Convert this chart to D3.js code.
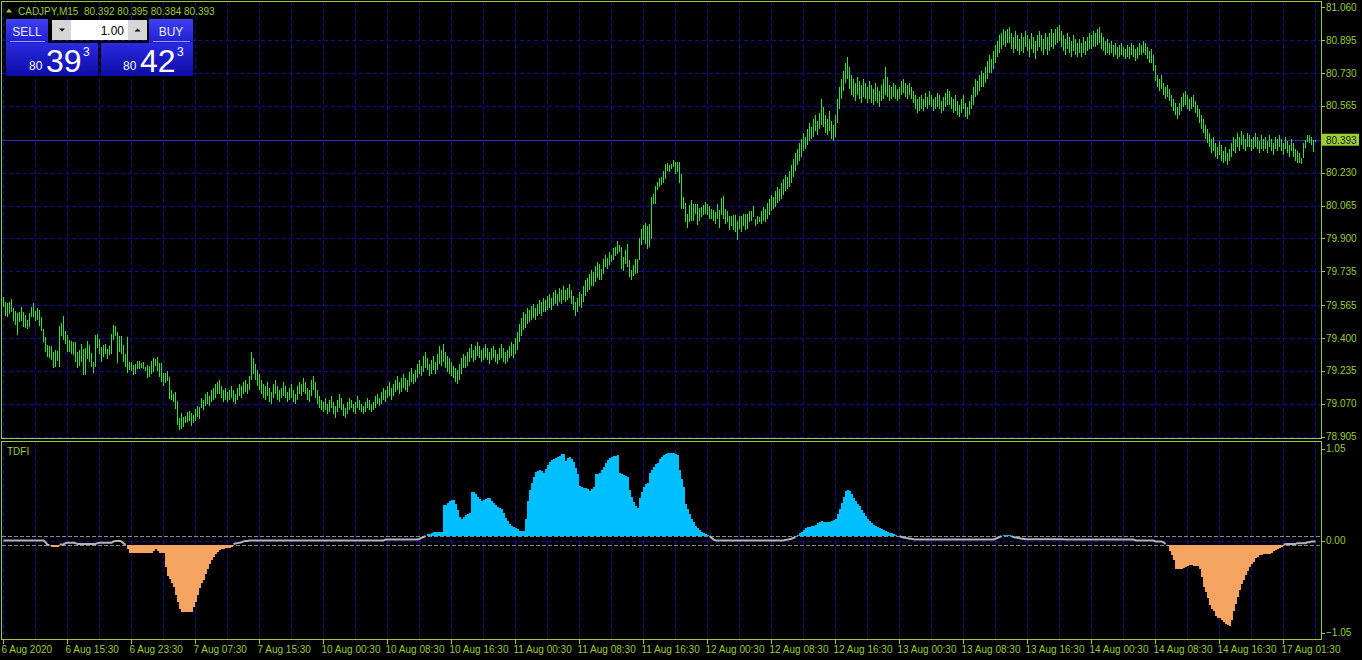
<!DOCTYPE html>
<html><head><meta charset="utf-8">
<script src="https://cdn.jsdelivr.net/npm/d3@7"></script>
<style>
html,body{margin:0;padding:0;background:#000;}
svg{display:block;}
text{font-family:"Liberation Sans",Arial,sans-serif;}
</style></head><body>
<svg id="chart" width="1362" height="660"></svg>
<script>
const symbolTitle = "CADJPY,M15";
const quote = ["80.392", "80.395", "80.384", "80.393"];
const currentPrice = 80.393;
const lotSize = "1.00";
const sellPrice = ["80", "39", "3"];
const buyPrice = ["80", "42", "3"];

const highs = [
79.605,79.580,79.575,79.580,79.594,79.552,79.535,79.527,79.533,79.558,
79.530,79.517,79.491,79.527,79.555,79.577,79.535,79.550,79.543,79.508,
79.446,79.404,79.363,79.358,79.358,79.332,79.341,79.337,79.463,79.475,
79.513,79.435,79.413,79.388,79.383,79.379,79.379,79.329,79.342,79.371,
79.346,79.349,79.383,79.363,79.324,79.282,79.413,79.418,79.396,79.354,
79.363,79.368,79.346,79.358,79.418,79.468,79.463,79.430,79.408,79.408,
79.363,79.321,79.404,79.279,79.282,79.267,79.270,79.287,79.287,79.274,
79.279,79.257,79.267,79.262,79.287,79.301,79.296,79.307,79.274,79.274,
79.224,79.224,79.234,79.204,79.140,79.120,79.128,79.083,78.998,79.023,
79.003,79.011,79.028,79.036,79.023,79.016,79.045,79.061,79.056,79.10,
79.09,79.12,79.13,79.11,79.14,79.15,79.17,79.18,79.19,79.16,
79.14,79.15,79.13,79.14,79.16,79.14,79.12,79.15,79.17,79.16,
79.18,79.19,79.17,79.21,79.33,79.30,79.27,79.24,79.22,79.19,
79.17,79.16,79.18,79.15,79.13,79.17,79.19,79.16,79.14,79.15,
79.18,79.16,79.13,79.15,79.17,79.14,79.12,79.16,79.18,79.17,
79.20,79.18,79.15,79.14,79.19,79.21,79.18,79.14,79.11,79.09,
79.08,79.10,79.07,79.09,79.11,79.08,79.06,79.09,79.12,79.10,
79.07,79.05,79.08,79.10,79.09,79.07,79.08,79.11,79.09,79.07,
79.06,79.08,79.10,79.09,79.07,79.08,79.11,79.12,79.10,79.13,
79.15,79.14,79.16,79.18,79.15,79.17,79.19,79.21,79.18,79.20,
79.22,79.20,79.19,79.23,79.25,79.22,79.24,79.27,79.29,79.26,
79.31,79.33,79.30,79.27,79.29,79.31,79.28,79.32,79.36,79.34,
79.37,79.33,79.31,79.30,79.28,79.26,79.25,79.24,79.27,79.30,
79.32,79.31,79.33,79.35,79.37,79.34,79.36,79.38,79.36,79.34,
79.35,79.37,79.35,79.33,79.35,79.36,79.34,79.32,79.35,79.37,
79.35,79.33,79.34,79.36,79.38,79.37,79.40,79.43,79.47,79.50,
79.53,79.52,79.55,79.54,79.56,79.57,79.55,79.57,79.59,79.58,
79.60,79.59,79.61,79.62,79.60,79.63,79.64,79.62,79.65,79.64,
79.66,79.64,79.65,79.67,79.64,79.61,79.58,79.60,79.63,79.62,
79.66,79.69,79.70,79.72,79.74,79.73,79.76,79.78,79.77,79.748,
79.795,79.815,79.803,79.831,79.815,79.853,79.857,79.887,79.865,79.857,
79.806,79.840,79.870,79.790,79.743,79.765,79.798,79.798,79.903,79.949,
79.965,79.977,79.960,79.974,80.108,80.124,80.161,80.183,80.205,80.208,
80.238,80.275,80.278,80.267,80.275,80.292,80.283,80.283,80.283,80.225,
80.108,80.078,80.024,80.066,80.091,80.074,80.071,80.074,80.054,80.057,
80.066,80.083,80.071,80.061,80.049,80.041,80.032,80.074,80.041,80.104,
80.111,80.049,80.037,80.011,80.011,80.016,80.016,79.987,80.011,80.011,
80.024,80.021,80.021,80.036,80.037,80.061,79.999,80.011,80.007,80.04,
80.06,80.05,80.08,80.10,80.12,80.11,80.14,80.16,80.15,80.18,
80.20,80.22,80.21,80.24,80.27,80.30,80.33,80.35,80.38,80.40,
80.43,80.41,80.45,80.48,80.46,80.50,80.52,80.49,80.53,80.60,
80.56,80.52,80.50,80.54,80.49,80.47,80.52,80.60,80.66,80.70,
80.74,80.78,80.81,80.76,80.72,80.70,80.68,80.71,80.69,80.67,
80.70,80.68,80.66,80.69,80.67,80.65,80.68,80.66,80.64,80.67,
80.70,80.76,80.71,80.67,80.66,80.68,80.67,80.65,80.66,80.69,
80.70,80.68,80.67,80.68,80.66,80.64,80.62,80.60,80.61,80.62,
80.60,80.63,80.61,80.64,80.62,80.60,80.61,80.63,80.62,80.59,
80.61,80.63,80.65,80.64,80.61,80.60,80.62,80.59,80.57,80.60,
80.62,80.58,80.56,80.59,80.62,80.66,80.70,80.69,80.72,80.74,
80.73,80.76,80.79,80.82,80.80,80.84,80.87,80.89,80.92,80.93,
80.95,80.94,80.95,80.96,80.93,80.91,80.94,80.92,80.90,80.93,
80.91,80.94,80.92,80.90,80.93,80.91,80.89,80.92,80.94,80.92,
80.90,80.93,80.91,80.93,80.95,80.93,80.95,80.96,80.97,80.94,
80.92,80.90,80.93,80.91,80.89,80.92,80.90,80.88,80.90,80.88,
80.91,80.89,80.91,80.93,80.92,80.94,80.93,80.95,80.96,80.93,
80.91,80.89,80.90,80.88,80.89,80.87,80.88,80.86,80.87,80.88,
80.86,80.85,80.87,80.86,80.88,80.87,80.85,80.86,80.88,80.87,
80.89,80.88,80.86,80.84,80.85,80.82,80.77,80.72,80.70,80.72,
80.68,80.66,80.67,80.65,80.62,80.60,80.58,80.56,80.58,80.61,
80.63,80.64,80.62,80.60,80.61,80.62,80.59,80.57,80.55,80.52,
80.50,80.47,80.45,80.43,80.40,80.41,80.38,80.36,80.39,80.37,
80.34,80.36,80.33,80.35,80.38,80.41,80.40,80.43,80.41,80.44,
80.42,80.40,80.43,80.42,80.40,80.41,80.43,80.41,80.39,80.42,
80.40,80.41,80.39,80.42,80.40,80.38,80.41,80.40,80.42,80.40,
80.38,80.41,80.39,80.37,80.40,80.38,80.35,80.34,80.33,80.306,
80.377,80.392,80.417,80.417,80.407,80.392,80.395
];
const lows = [
79.555,79.513,79.508,79.522,79.530,79.485,79.468,79.413,79.480,79.485,
79.455,79.450,79.446,79.455,79.505,79.505,79.488,79.491,79.460,79.435,
79.379,79.332,79.304,79.301,79.291,79.249,79.254,79.287,79.257,79.408,
79.391,79.371,79.332,79.332,79.321,79.316,79.279,79.249,79.259,79.279,
79.217,79.217,79.296,79.279,79.257,79.224,79.257,79.349,79.321,79.282,
79.304,79.321,79.296,79.317,79.321,79.388,79.408,79.274,79.329,79.321,
79.279,79.257,79.224,79.240,79.234,79.217,79.220,79.245,79.245,79.250,
79.245,79.234,79.200,79.207,79.220,79.229,79.262,79.237,79.204,79.178,
79.158,79.173,79.187,79.095,79.090,79.078,79.045,78.966,78.939,78.944,
78.956,78.973,78.978,78.986,78.961,78.973,78.986,79.006,78.994,79.05,
79.04,79.06,79.07,79.06,79.08,79.09,79.10,79.12,79.12,79.10,
79.08,79.09,79.08,79.09,79.10,79.08,79.07,79.09,79.11,79.10,
79.12,79.13,79.12,79.14,79.19,79.22,79.19,79.16,79.14,79.12,
79.10,79.09,79.11,79.08,79.07,79.10,79.12,79.09,79.08,79.10,
79.11,79.10,79.08,79.09,79.10,79.08,79.07,79.09,79.12,79.11,
79.13,79.12,79.09,79.08,79.11,79.14,79.10,79.07,79.05,79.04,
79.03,79.04,79.02,79.03,79.05,79.02,79.00,79.03,79.05,79.04,
79.01,79.00,79.02,79.04,79.05,79.03,79.02,79.05,79.04,79.03,
79.02,79.03,79.05,79.04,79.03,79.04,79.05,79.07,79.06,79.07,
79.09,79.08,79.10,79.11,79.09,79.11,79.13,79.14,79.12,79.13,
79.15,79.14,79.13,79.16,79.18,79.17,79.18,79.20,79.22,79.21,
79.23,79.25,79.24,79.21,79.22,79.24,79.22,79.24,79.27,79.26,
79.28,79.25,79.23,79.22,79.21,79.20,79.18,79.17,79.19,79.22,
79.25,79.25,79.26,79.28,79.30,79.28,79.29,79.31,79.30,79.28,
79.29,79.30,79.29,79.27,79.29,79.30,79.28,79.27,79.29,79.30,
79.28,79.27,79.28,79.30,79.31,79.30,79.32,79.34,79.38,79.41,
79.44,79.45,79.47,79.48,79.49,79.50,79.49,79.51,79.52,79.51,
79.53,79.53,79.54,79.55,79.54,79.56,79.57,79.56,79.58,79.57,
79.59,79.58,79.59,79.60,79.57,79.54,79.51,79.53,79.56,79.55,
79.58,79.61,79.63,79.64,79.66,79.66,79.68,79.70,79.69,79.689,
79.723,79.756,79.748,79.765,79.781,79.790,79.810,79.823,79.831,79.748,
79.739,79.773,79.756,79.706,79.689,79.714,79.723,79.726,79.790,79.865,
79.890,79.870,79.848,79.857,79.898,80.074,80.074,80.144,80.158,80.166,
80.178,80.200,80.238,80.233,80.250,80.258,80.221,80.233,80.178,80.049,
80.049,79.982,79.954,79.982,79.990,79.990,80.024,79.965,79.987,80.007,
80.016,80.024,80.016,79.999,79.999,79.990,79.974,79.999,79.954,80.016,
79.999,79.970,79.982,79.944,79.960,79.944,79.932,79.890,79.949,79.932,
79.960,79.940,79.949,79.982,79.987,80.007,79.960,79.974,79.982,79.97,
79.99,79.98,80.00,80.02,80.04,80.05,80.06,80.08,80.09,80.10,
80.12,80.14,80.15,80.16,80.18,80.21,80.24,80.27,80.29,80.31,
80.34,80.35,80.37,80.39,80.40,80.41,80.44,80.42,80.45,80.47,
80.46,80.43,80.42,80.44,80.40,80.39,80.41,80.48,80.55,80.60,
80.64,80.68,80.70,80.65,80.62,80.61,80.59,80.62,80.60,80.58,
80.61,80.60,80.58,80.60,80.58,80.57,80.59,80.58,80.56,80.59,
80.60,80.62,80.61,80.59,80.60,80.61,80.60,80.59,80.60,80.62,
80.63,80.61,80.60,80.62,80.60,80.58,80.55,80.53,80.54,80.55,
80.54,80.56,80.55,80.57,80.56,80.54,80.55,80.56,80.55,80.53,
80.54,80.56,80.57,80.57,80.55,80.53,80.54,80.52,80.51,80.53,
80.55,80.51,80.50,80.52,80.55,80.57,80.61,80.62,80.64,80.66,
80.66,80.68,80.70,80.73,80.73,80.75,80.78,80.81,80.83,80.85,
80.87,80.86,80.88,80.88,80.85,80.83,80.85,80.84,80.82,80.84,
80.83,80.86,80.84,80.81,80.85,80.83,80.80,80.84,80.86,80.84,
80.82,80.85,80.82,80.84,80.86,80.85,80.87,80.88,80.89,80.86,
80.84,80.82,80.85,80.83,80.81,80.84,80.82,80.81,80.83,80.81,
80.83,80.82,80.84,80.85,80.85,80.86,80.86,80.87,80.88,80.85,
80.84,80.82,80.83,80.82,80.83,80.81,80.82,80.80,80.81,80.82,
80.81,80.80,80.81,80.80,80.82,80.81,80.79,80.80,80.82,80.82,
80.83,80.82,80.80,80.78,80.78,80.74,80.69,80.66,80.64,80.65,
80.62,80.60,80.61,80.59,80.56,80.54,80.52,80.50,80.52,80.54,
80.56,80.57,80.55,80.54,80.55,80.56,80.53,80.51,80.48,80.45,
80.43,80.40,80.38,80.36,80.33,80.34,80.31,80.30,80.32,80.29,
80.28,80.29,80.27,80.29,80.31,80.34,80.33,80.36,80.34,80.37,
80.35,80.34,80.36,80.36,80.34,80.35,80.36,80.35,80.33,80.35,
80.34,80.35,80.33,80.36,80.34,80.32,80.35,80.34,80.36,80.34,
80.32,80.35,80.33,80.31,80.34,80.31,80.29,80.28,80.28,80.276,
80.306,80.352,80.382,80.377,80.367,80.332,80.384
];
const tdfi = [
0,0,0,0,0,0,0,0,0,0,
0,0,0,0,0,0,0,0,0,0,
0,-0.02,-0.05,-0.05,-0.07,-0.07,-0.07,-0.07,-0.045,-0.045,
-0.045,-0.03,-0.025,-0.025,-0.025,-0.025,-0.03,-0.04,-0.04,-0.04,
-0.04,-0.04,-0.04,-0.04,-0.04,-0.04,-0.04,-0.03,-0.025,-0.025,
-0.025,-0.025,-0.025,-0.025,-0.025,-0.01,-0.005,-0.005,-0.005,-0.01,
-0.03,-0.05,-0.10,-0.14,-0.14,-0.14,-0.14,-0.14,-0.14,-0.14,
-0.14,-0.14,-0.14,-0.14,-0.14,-0.12,-0.10,-0.12,-0.14,-0.14,
-0.14,-0.30,-0.41,-0.44,-0.48,-0.53,-0.62,-0.70,-0.78,-0.82,
-0.82,-0.82,-0.82,-0.82,-0.82,-0.76,-0.70,-0.62,-0.54,-0.49,
-0.45,-0.38,-0.33,-0.27,-0.22,-0.185,-0.15,-0.13,-0.11,-0.10,
-0.095,-0.09,-0.085,-0.08,-0.07,-0.04,-0.035,-0.03,-0.025,-0.02,
-0.01,-0.005,-0.005,0,0,0,0,0,0,0,
0,0,0,0,0,0,0,0,0,0,
0,0,0,0,0,0,0,0,0,0,
0,0,0,0,0,0,0,0,0,0,
0,0,0,0,0,0,0,0,0,0,
0,0,0,0,0,0,0,0,0,0,
0,0,0,0,0,0,0,0,0,0,
0,0.01,0.01,0.01,0.01,0.01,0.01,0.01,0.01,0.01,
0.01,0.01,0.01,0.01,0.01,0.01,0.01,0.01,0.02,0.03,
0.04,0.05,0.075,0.075,0.08,0.10,0.10,0.10,0.10,0.10,
0.40,0.41,0.43,0.45,0.46,0.46,0.42,0.35,0.27,0.25,
0.27,0.29,0.30,0.31,0.55,0.55,0.53,0.50,0.47,0.45,
0.46,0.47,0.49,0.48,0.45,0.43,0.40,0.38,0.37,0.36,
0.31,0.26,0.22,0.19,0.17,0.15,0.14,0.13,0.11,0.11,
0.11,0.25,0.45,0.58,0.66,0.73,0.78,0.79,0.80,0.79,
0.77,0.82,0.86,0.90,0.92,0.93,0.94,0.95,0.97,0.99,
0.99,0.91,0.94,0.95,0.93,0.90,0.83,0.76,0.62,0.61,
0.60,0.60,0.59,0.57,0.59,0.61,0.76,0.76,0.77,0.81,
0.84,0.89,0.92,0.94,0.95,0.96,0.97,0.98,0.77,0.76,
0.75,0.74,0.73,0.58,0.50,0.44,0.39,0.37,0.48,0.55,
0.61,0.64,0.66,0.77,0.80,0.84,0.87,0.89,0.93,0.95,
0.976,0.99,0.995,0.995,0.995,0.995,0.99,0.976,0.80,0.70,
0.61,0.42,0.36,0.30,0.25,0.21,0.16,0.14,0.12,0.10,
0.09,0.07,0.066,0.05,0.03,0.01,0,0,0,0,
0,0,0,0,0,0,0,0,0,0,
0,0,0,0,0,0,0,0,0,0,
0,0,0,0,0,0,0,0,0,0,
0,0.005,0.01,0.015,0.02,0.03,0.04,0.06,0.08,0.10,
0.12,0.14,0.15,0.15,0.16,0.17,0.18,0.20,0.21,0.22,
0.21,0.21,0.21,0.21,0.22,0.23,0.24,0.30,0.36,0.43,
0.50,0.56,0.58,0.56,0.53,0.49,0.45,0.42,0.39,0.35,
0.31,0.28,0.25,0.22,0.20,0.18,0.16,0.15,0.14,0.13,
0.12,0.11,0.10,0.09,0.08,0.07,0.06,0.055,0.05,0.04,
0.035,0.03,0.025,0.02,0.02,0.015,0.01,0.01,0.01,0.01,
0.01,0.01,0.01,0.01,0.01,0.01,0.01,0.01,0.01,0.01,
0.01,0.01,0.01,0.01,0.01,0.01,0.01,0.01,0.01,0.01,
0.01,0.01,0.01,0.01,0.01,0.01,0.01,0.01,0.01,0.01,
0.01,0.01,0.01,0.01,0.01,0.01,0.02,0.03,0.04,0.05,
0.06,0.065,0.065,0.06,0.05,0.04,0.035,0.03,0.025,0.02,
0.02,0.015,0.015,0.015,0.015,0.015,0.015,0.015,0.015,0.015,
0.015,0.015,0.015,0.015,0.015,0.015,0.015,0.015,0.015,0.015,
0.015,0.01,0.01,0.01,0.01,0.01,0.01,0.01,0.01,0.01,
0.01,0.01,0.01,0.01,0.01,0.01,0.01,0.01,0.01,0.01,
0.01,0.01,0.01,0.01,0.01,0.01,0.01,0.01,0.01,0.01,
0.01,0.01,0.01,0.01,0.01,0.01,0,0,0,0,
0,0,0,0,0,0,-0.01,-0.01,-0.01,-0.01,
-0.02,-0.04,-0.06,-0.12,-0.17,-0.22,-0.32,-0.33,-0.32,-0.32,
-0.31,-0.30,-0.29,-0.28,-0.28,-0.29,-0.29,-0.29,-0.33,-0.42,
-0.53,-0.59,-0.66,-0.74,-0.78,-0.81,-0.86,-0.88,-0.89,-0.91,
-0.93,-0.95,-0.97,-0.98,-0.91,-0.81,-0.72,-0.64,-0.56,-0.50,
-0.45,-0.39,-0.35,-0.30,-0.27,-0.24,-0.20,-0.19,-0.17,-0.16,
-0.15,-0.15,-0.15,-0.15,-0.14,-0.12,-0.11,-0.10,-0.08,-0.07,
-0.05,-0.04,-0.04,-0.04,-0.04,-0.04,-0.04,-0.03,-0.03,-0.03,
-0.03,-0.03,-0.02,-0.02,-0.01,-0.01,-0.01
];

const priceTicks = [81.060, 80.895, 80.730, 80.565, 80.230, 80.065, 79.900, 79.735, 79.565, 79.400, 79.235, 79.070, 78.905];
const tdfiTicks = [1.05, 0.00, -1.05];
const tdfiLevels = [0.05, -0.05];
const timeLabels = ["6 Aug 2020","6 Aug 15:30","6 Aug 23:30","7 Aug 07:30","7 Aug 15:30","10 Aug 00:30","10 Aug 08:30",
  "10 Aug 16:30","11 Aug 00:30","11 Aug 08:30","11 Aug 16:30","12 Aug 00:30","12 Aug 08:30","12 Aug 16:30",
  "13 Aug 00:30","13 Aug 08:30","13 Aug 16:30","14 Aug 00:30","14 Aug 08:30","14 Aug 16:30","17 Aug 01:30"];
const barsPerLabel = 32;
const barsPerGrid = 16;

// ---------- styles ----------
const FG = "#9acd32", GRID = "#0e0e96", BAR = "#32e132";
const svg = d3.select("#chart");
svg.append("rect").attr("width",1362).attr("height",660).attr("fill","#000");

const n = highs.length;
const x = d3.scaleLinear().domain([0, n - 1]).range([3, 3 + 2 * (n - 1)]);
const yP = d3.scaleLinear().domain([78.905, 81.060]).range([436.7, 7.3]);
const yT = d3.scaleLinear().domain([-1.05, 1.05]).range([632.5, 448.5]);
const fmt3 = d3.format(".3f"), fmt2 = d3.format(".2f");
const R = 1321.5;

// defs
const defs = svg.append("defs");
const g1 = defs.append("linearGradient").attr("id","btnTop").attr("x1",0).attr("y1",0).attr("x2",0).attr("y2",1);
g1.append("stop").attr("offset","0%").attr("stop-color","#4040f4");
g1.append("stop").attr("offset","100%").attr("stop-color","#2020d0");
const g2 = defs.append("linearGradient").attr("id","pBox").attr("x1",0).attr("y1",0).attr("x2",0).attr("y2",1);
g2.append("stop").attr("offset","0%").attr("stop-color","#2a2ae0");
g2.append("stop").attr("offset","100%").attr("stop-color","#0c0ca6");

// ---------- grids ----------
const gridIdx = d3.range(0, n, barsPerGrid);
const grid = svg.append("g").attr("stroke", GRID).attr("stroke-dasharray","4,3").attr("shape-rendering","crispEdges");
grid.selectAll(".vg1").data(gridIdx).join("line")
  .attr("x1", d => x(d) + 0.5).attr("x2", d => x(d) + 0.5).attr("y1", 2).attr("y2", 438);
grid.selectAll(".vg2").data(gridIdx).join("line")
  .attr("x1", d => x(d) + 0.5).attr("x2", d => x(d) + 0.5).attr("y1", 442).attr("y2", 639);
grid.selectAll(".hg").data(priceTicks.slice(1)).join("line")
  .attr("x1", 2).attr("x2", R).attr("y1", d => Math.round(yP(d)) + 0.5).attr("y2", d => Math.round(yP(d)) + 0.5);

// bid line
svg.append("line").attr("x1",2).attr("x2",R)
  .attr("y1", Math.round(yP(currentPrice)) + 0.5).attr("y2", Math.round(yP(currentPrice)) + 0.5)
  .attr("stroke","#2a2ac8").attr("shape-rendering","crispEdges");

// ---------- price bars ----------
svg.append("g").attr("fill", BAR).attr("shape-rendering","crispEdges")
  .selectAll("rect").data(d3.range(n)).join("rect")
  .attr("x", i => x(i)).attr("width", 1)
  .attr("y", i => Math.round(yP(highs[i])))
  .attr("height", i => Math.max(1, Math.round(yP(lows[i])) - Math.round(yP(highs[i]))));

// ---------- indicator ----------
// zero line
svg.append("line").attr("x1",2).attr("x2",R).attr("y1", Math.round(yT(0)) + 0.5).attr("y2", Math.round(yT(0)) + 0.5)
  .attr("stroke", GRID).attr("stroke-dasharray","4,3").attr("shape-rendering","crispEdges");
svg.selectAll(".lvl").data(tdfiLevels).join("line")
  .attr("x1",2).attr("x2",R).attr("y1", d => Math.round(yT(d)) + 0.5).attr("y2", d => Math.round(yT(d)) + 0.5)
  .attr("stroke","#8a8a8a").attr("stroke-dasharray","4,2").attr("shape-rendering","crispEdges");

const up = d3.range(n).filter(i => tdfi[i] > tdfiLevels[0]);
const dn = d3.range(n).filter(i => tdfi[i] < tdfiLevels[1]);
svg.append("g").attr("fill","#00bfff").attr("shape-rendering","crispEdges")
  .selectAll("rect").data(up).join("rect")
  .attr("x", i => x(i) - 0.5).attr("width", 2)
  .attr("y", i => yT(tdfi[i])).attr("height", i => yT(tdfiLevels[0]) - yT(tdfi[i]));
svg.append("g").attr("fill","#f4a460").attr("shape-rendering","crispEdges")
  .selectAll("rect").data(dn).join("rect")
  .attr("x", i => x(i) - 0.5).attr("width", 2)
  .attr("y", i => yT(tdfiLevels[1])).attr("height", i => yT(tdfi[i]) - yT(tdfiLevels[1]));

const line = d3.line().defined(i => Math.abs(tdfi[i]) <= tdfiLevels[0] + 1e-9)
  .x(i => x(i) + 0.5).y(i => yT(tdfi[i]));
svg.append("path").datum(d3.range(n)).attr("d", line)
  .attr("fill","none").attr("stroke","#b4b4b4").attr("stroke-width",2);

svg.append("text").attr("x",7).attr("y",455).attr("fill",FG).attr("font-size",10).text("TDFI");

// ---------- frames ----------
const frames = svg.append("g").attr("fill","none").attr("stroke",FG).attr("shape-rendering","crispEdges");
frames.append("rect").attr("x",1.5).attr("y",1.5).attr("width",R-1.5).attr("height",437);
frames.append("rect").attr("x",1.5).attr("y",441.5).attr("width",R-1.5).attr("height",198);

// ---------- right axes ----------
const ax = svg.append("g");
ax.selectAll(".pt").data(priceTicks).join("line")
  .attr("x1",R).attr("x2",R+3.5).attr("y1", d => Math.round(yP(d)) + 0.5).attr("y2", d => Math.round(yP(d)) + 0.5)
  .attr("stroke",FG).attr("shape-rendering","crispEdges");
ax.selectAll(".pl").data(priceTicks).join("text")
  .attr("x",1326).attr("y", d => yP(d)).attr("dy","0.35em")
  .attr("fill",FG).attr("font-size",10).text(d => fmt3(d));
ax.append("rect").attr("x",R+0.5).attr("y", yP(currentPrice) - 6.5).attr("width",37).attr("height",12).attr("fill",FG);
ax.append("text").attr("x",1326).attr("y", yP(currentPrice)).attr("dy","0.35em")
  .attr("fill","#1a1a1a").attr("font-size",10).text(fmt3(currentPrice));

ax.selectAll(".tt").data(tdfiTicks).join("line")
  .attr("x1",R).attr("x2",R+3.5).attr("y1", d => Math.round(yT(d)) + 0.5).attr("y2", d => Math.round(yT(d)) + 0.5)
  .attr("stroke",FG).attr("shape-rendering","crispEdges");
ax.selectAll(".tl").data(tdfiTicks).join("text")
  .attr("x",1326).attr("y", d => yT(d)).attr("dy","0.35em")
  .attr("fill",FG).attr("font-size",10).text(d => fmt2(d));

// ---------- time axis ----------
const tIdx = timeLabels.map((t, k) => k * barsPerLabel);
ax.selectAll(".xt").data(tIdx).join("line")
  .attr("x1", d => x(d) + 0.5).attr("x2", d => x(d) + 0.5).attr("y1", 639.5).attr("y2", 644)
  .attr("stroke",FG).attr("shape-rendering","crispEdges");
ax.selectAll(".xl").data(timeLabels).join("text")
  .attr("x", (d, k) => x(tIdx[k]) - 1.5).attr("y", 652.5)
  .attr("fill",FG).attr("font-size",10).text(d => d);

// ---------- header ----------
svg.append("path").attr("d","M6,12.5L12,12.5L9,8.5Z").attr("fill",FG);
svg.append("text").attr("x",18).attr("y",14.5).attr("fill",FG).attr("font-size",10)
  .attr("xml:space","preserve").text(symbolTitle + "  " + quote.join(" "));

// ---------- trade panel ----------
const p = svg.append("g");
function btn(x0, w, label) {
  p.append("rect").attr("x",x0).attr("y",19).attr("width",w).attr("height",24).attr("fill","url(#btnTop)");
  p.append("line").attr("x1",x0+4).attr("x2",x0+w-3).attr("y1",41.5).attr("y2",41.5).attr("stroke","#9a9aff");
  p.append("text").attr("x",x0+w/2).attr("y",35.5).attr("text-anchor","middle").attr("fill","#ececff")
    .attr("font-size",12).text(label);
}
btn(6, 42, "SELL");
btn(149, 44, "BUY");
function priceBox(x0, parts, sx) {
  p.append("rect").attr("x",x0).attr("y",43).attr("width",92).attr("height",33).attr("fill","url(#pBox)");
  p.append("text").attr("x",sx).attr("y",70).attr("fill","#fff").attr("font-size",12).text(parts[0]);
  p.append("text").attr("x",sx+17).attr("y",72).attr("fill","#fff").attr("font-size",32).text(parts[1]);
  p.append("text").attr("x",sx+54).attr("y",56).attr("fill","#fff").attr("font-size",12).text(parts[2]);
}
priceBox(6, sellPrice, 29);
priceBox(101, buyPrice, 123);
p.append("rect").attr("x",52).attr("y",20).attr("width",19).attr("height",20).attr("fill","#d6d6d6");
p.append("path").attr("d","M59,28.5L65,28.5L62,31.5Z").attr("fill","#000");
p.append("rect").attr("x",71).attr("y",20).attr("width",57).attr("height",20).attr("fill","#fff");
p.append("text").attr("x",124).attr("y",34.5).attr("text-anchor","end").attr("fill","#000").attr("font-size",12).text(lotSize);
p.append("rect").attr("x",128).attr("y",20).attr("width",19).attr("height",20).attr("fill","#d6d6d6");
p.append("path").attr("d","M134.5,31.5L140.5,31.5L137.5,28.5Z").attr("fill","#000");
</script>
</body></html>
